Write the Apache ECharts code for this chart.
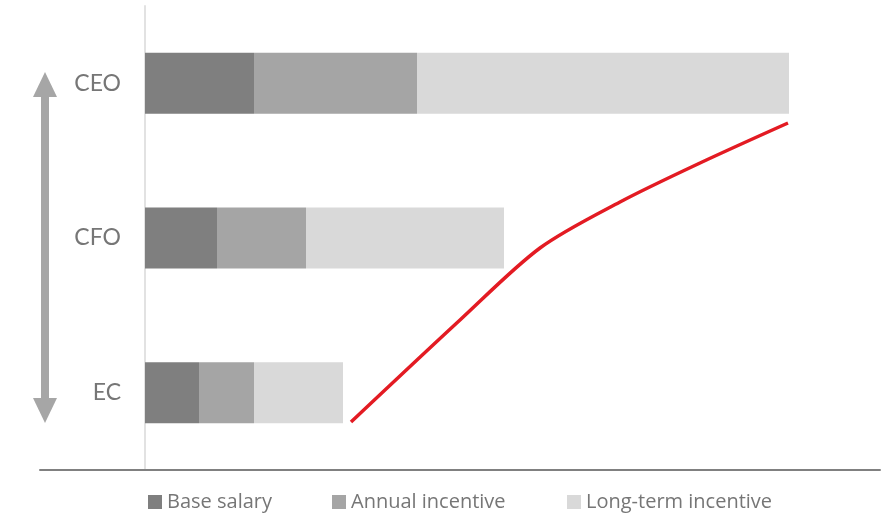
<!DOCTYPE html>
<html>
<head>
<meta charset="utf-8">
<script src="https://cdn.jsdelivr.net/npm/echarts@6/dist/echarts.min.js"></script>
<style>
html,body{margin:0;padding:0;background:#fff;}
#chart{width:887px;height:515px;}
</style>
</head>
<body>
<div id="chart"></div>
<script>
// Categories (bottom to top)
var categories = ['EC', 'CFO', 'CEO'];
// Stacked pay components (relative units)
var baseSalary = [54, 72, 109];
var annualIncentive = [55, 89, 163];
var longTermIncentive = [89, 198, 372];
var legendNames = ['Base salary', 'Annual incentive', 'Long-term incentive'];
// Decorative red curve (overlay units)
var curveX = [311, 420, 500, 580, 660, 748];
var curveY = [48, 150, 222, 268, 307, 347];
// Double-headed arrow (overlay units): x, top head centre, bottom head centre
var arrowX = 5;
var arrowTop = 385.5;
var arrowBottom = 59.5;

var chart = echarts.init(document.getElementById('chart'), null, {renderer: 'canvas'});
var font = 'Lato, "Open Sans", sans-serif';
var legendFont = '"Open Sans", Lato, sans-serif';
var textColor = '#767676';

var curveData = curveX.map(function (x, i) { return [x, curveY[i]]; });

var legendLefts = [143, 327, 562];
var legends = legendNames.map(function (n, i) {
  return {
    data: [n],
    left: legendLefts[i],
    top: 487,
    icon: 'rect',
    itemWidth: 14,
    itemHeight: 14,
    textStyle: {fontFamily: legendFont, fontSize: 20, color: textColor}
  };
});

var option = {
  animation: false,
  backgroundColor: '#ffffff',
  grid: [
    {left: 145, right: 7, top: 6, bottom: 45, containLabel: false},
    {left: 40, right: 7, top: 6, bottom: 45, containLabel: false}
  ],
  legend: legends,
  xAxis: [
    {type: 'value', gridIndex: 0, min: 0, max: 735, show: false},
    {type: 'value', gridIndex: 1, min: 0, max: 840,
      axisLine: {show: true, onZero: false, lineStyle: {color: '#808080', width: 2}},
      axisTick: {show: false}, axisLabel: {show: false}, splitLine: {show: false}}
  ],
  yAxis: [
    {type: 'category', gridIndex: 0, data: categories,
      axisLine: {show: true, lineStyle: {color: '#e2e2e2', width: 2}},
      axisTick: {show: false},
      axisLabel: {margin: 24, fontFamily: font, fontSize: 23, color: textColor},
      splitLine: {show: false}},
    {type: 'value', gridIndex: 1, min: 0, max: 464, show: false}
  ],
  series: [
    {name: legendNames[0], type: 'bar', stack: 'pay', xAxisIndex: 0, yAxisIndex: 0,
      barWidth: 61, data: baseSalary, itemStyle: {color: '#7f7f7f'}},
    {name: legendNames[1], type: 'bar', stack: 'pay', xAxisIndex: 0, yAxisIndex: 0,
      barWidth: 61, data: annualIncentive, itemStyle: {color: '#a5a5a5'}},
    {name: legendNames[2], type: 'bar', stack: 'pay', xAxisIndex: 0, yAxisIndex: 0,
      barWidth: 61, data: longTermIncentive, itemStyle: {color: '#d9d9d9'}},
    {name: 'curve', type: 'line', xAxisIndex: 1, yAxisIndex: 1, smooth: 0.3,
      showSymbol: false, symbol: 'none', data: curveData,
      lineStyle: {color: '#e31b23', width: 3.5}, z: 5},
    {name: 'arrow', type: 'line', xAxisIndex: 1, yAxisIndex: 1,
      data: [
        {value: [arrowX, arrowTop], symbolRotate: 0},
        {value: [arrowX, arrowBottom], symbolRotate: 180}
      ],
      symbol: 'triangle', symbolSize: [24, 25], showSymbol: true,
      itemStyle: {color: '#a6a6a6', borderWidth: 0},
      lineStyle: {color: '#a6a6a6', width: 8}, z: 3}
  ]
};
chart.setOption(option);
</script>
</body>
</html>
